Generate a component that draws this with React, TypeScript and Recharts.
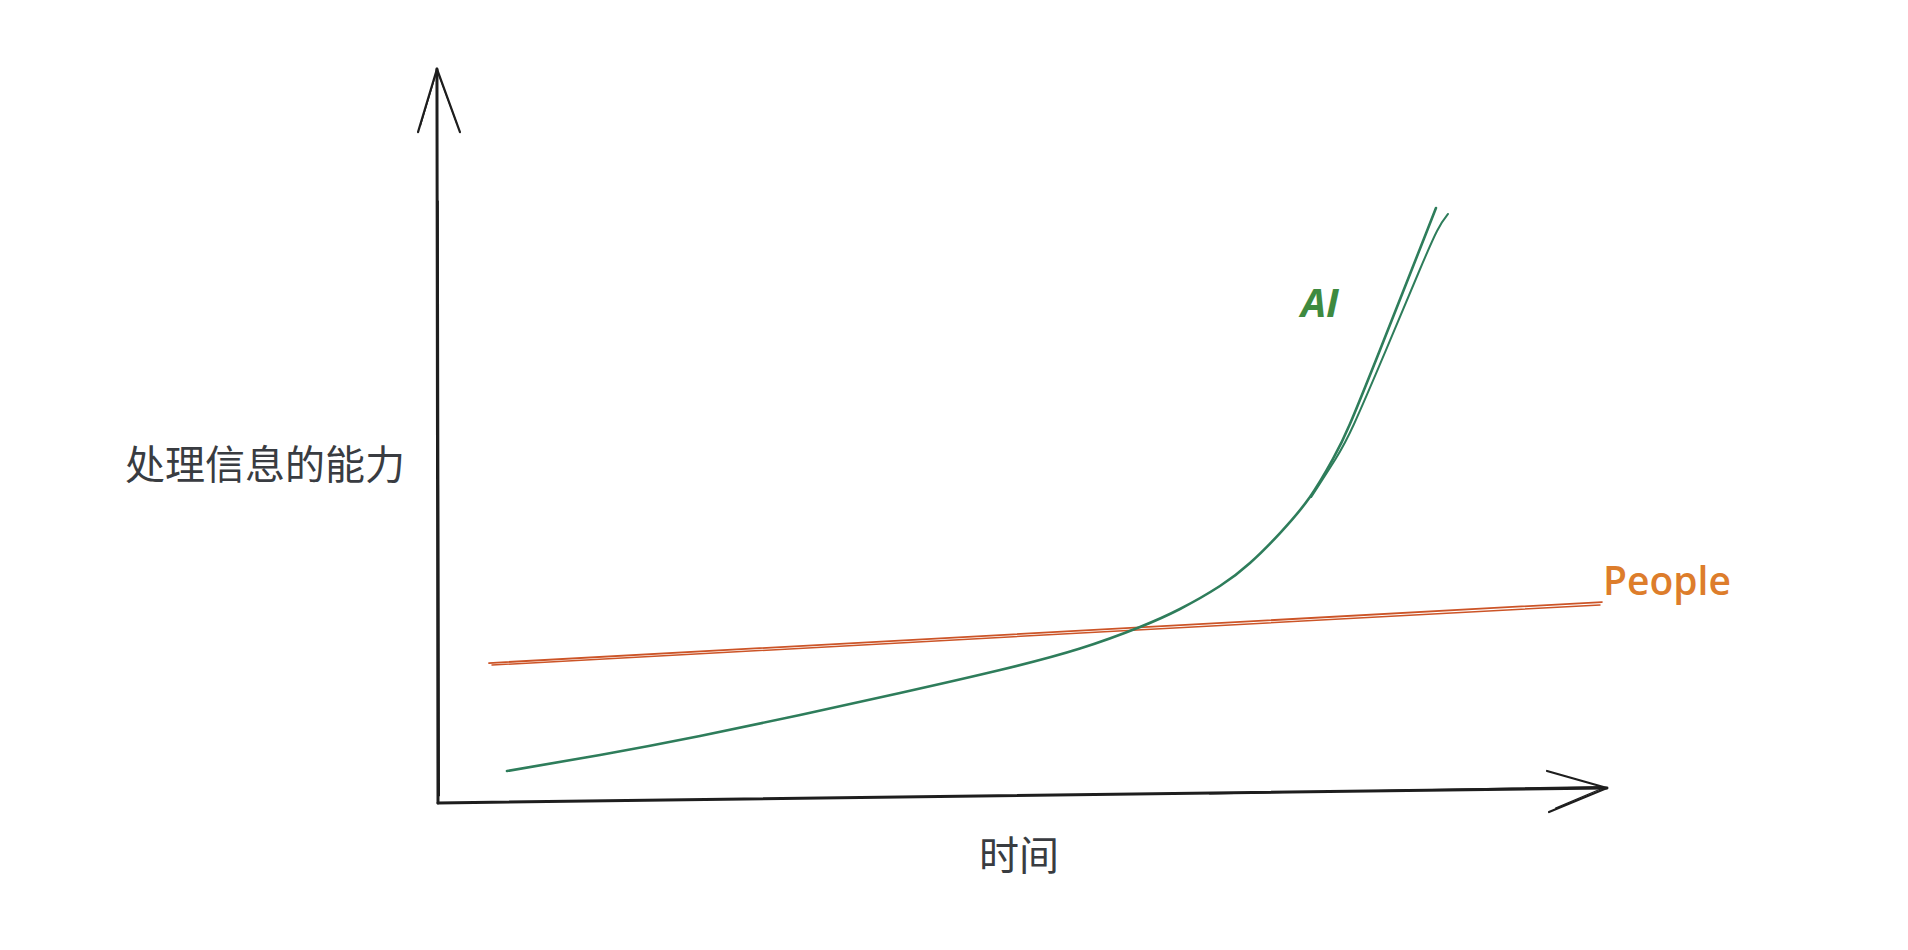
import React from "react";
import { ComposedChart, Line, XAxis, YAxis } from "recharts";

// Sketch data (arbitrary units: 0..100 on both axes; origin at the axes' corner)
const aiCurve = [
  { x: 5.9, y: 4.36 },
  { x: 13.86, y: 6.54 },
  { x: 22.41, y: 9.13 },
  { x: 30.97, y: 11.99 },
  { x: 39.52, y: 14.99 },
  { x: 48.08, y: 18.12 },
  { x: 54.92, y: 21.05 },
  { x: 60.05, y: 23.98 },
  { x: 63.47, y: 26.43 },
  { x: 66.89, y: 29.56 },
  { x: 69.46, y: 32.7 },
  { x: 72.03, y: 36.78 },
  { x: 74.59, y: 41.69 },
  { x: 76.56, y: 46.87 },
  { x: 78.01, y: 51.63 },
  { x: 80.58, y: 61.72 },
  { x: 83.15, y: 72.07 },
  { x: 84.6, y: 77.93 },
  { x: 85.37, y: 81.06 },
];
const aiCurveStroke2 = [
  { x: 74.7, y: 41.69 },
  { x: 76.78, y: 46.87 },
  { x: 78.36, y: 51.63 },
  { x: 81.1, y: 61.72 },
  { x: 83.83, y: 72.07 },
  { x: 85.46, y: 77.93 },
  { x: 86.4, y: 80.25 },
];
const peopleLine = [
  { x: 4.36, y: 19.07 },
  { x: 99.57, y: 27.38 },
];
const peopleLineStroke2 = [
  { x: 4.62, y: 18.8 },
  { x: 99.4, y: 26.98 },
];

// Axes (hand-drawn)
const yAxisLine = [
  { x: 0, y: 0 },
  { x: -0.09, y: 100 },
];
const yAxisLine2 = [
  { x: 0.12, y: 1 },
  { x: 0.02, y: 82 },
];
const xAxisLine = [
  { x: 0, y: 0 },
  { x: 100, y: 2.04 },
];
const xAxisLine2 = [
  { x: 66, y: 1.25 },
  { x: 99.6, y: 2.25 },
];
const yArrowLeft = [
  { x: -1.71, y: 91.4 },
  { x: -0.09, y: 100 },
];
const yArrowLeft2 = [
  { x: -1.5, y: 92.3 },
  { x: -0.2, y: 99.2 },
];
const yArrowRight = [
  { x: -0.09, y: 100 },
  { x: 1.88, y: 91.4 },
];
const yArrowRight2 = [
  { x: 0.05, y: 99.3 },
  { x: 1.6, y: 92.6 },
];
const xArrowUp = [
  { x: 94.87, y: 4.36 },
  { x: 100, y: 2.04 },
];
const xArrowDown = [
  { x: 95.04, y: -1.23 },
  { x: 100, y: 2.04 },
];
const xArrowDown2 = [
  { x: 95.6, y: -0.7 },
  { x: 99.6, y: 2.0 },
];

const yAxisTitle = "处理信息的能力";
const xAxisTitle = "时间";
const aiLabel = "AI";
const peopleLabel = "People";

const W = 1892;
const H = 934;
const AXIS = "#1e1e1e";
const GREEN = "#2e7d5b";
const RED = "#cc5427";

export default function App() {
  const common = {
    dataKey: "y",
    dot: false,
    activeDot: false,
    isAnimationActive: false,
    strokeLinecap: "round" as const,
  };
  return (
    <div style={{ position: "relative", width: W, height: H, background: "#fff" }}>
      <ComposedChart
        width={W}
        height={H}
        margin={{ left: 371.55, right: 234.55, top: 24.3, bottom: 102.3 }}
      >
        <XAxis dataKey="x" type="number" domain={[-5, 105]} allowDataOverflow hide />
        <YAxis type="number" domain={[-5, 105]} allowDataOverflow hide />

        <Line data={yAxisLine} type="linear" stroke={AXIS} strokeWidth={3} {...common} />
        <Line data={yAxisLine2} type="linear" stroke={AXIS} strokeWidth={1.2} {...common} />
        <Line data={xAxisLine} type="linear" stroke={AXIS} strokeWidth={3} {...common} />
        <Line data={xAxisLine2} type="linear" stroke={AXIS} strokeWidth={1.2} {...common} />
        <Line data={yArrowLeft} type="linear" stroke={AXIS} strokeWidth={2.2} {...common} />
        <Line data={yArrowLeft2} type="linear" stroke={AXIS} strokeWidth={1.2} {...common} />
        <Line data={yArrowRight} type="linear" stroke={AXIS} strokeWidth={2.2} {...common} />
        <Line data={yArrowRight2} type="linear" stroke={AXIS} strokeWidth={1.2} {...common} />
        <Line data={xArrowUp} type="linear" stroke={AXIS} strokeWidth={2.2} {...common} />
        <Line data={xArrowDown} type="linear" stroke={AXIS} strokeWidth={2.2} {...common} />
        <Line data={xArrowDown2} type="linear" stroke={AXIS} strokeWidth={1.2} {...common} />

        <Line data={peopleLine} type="linear" stroke={RED} strokeWidth={1.8} {...common} />
        <Line data={peopleLineStroke2} type="linear" stroke={RED} strokeWidth={1.5} {...common} />

        <Line data={aiCurve} type="natural" stroke={GREEN} strokeWidth={2.6} {...common} />
        <Line data={aiCurveStroke2} type="natural" stroke={GREEN} strokeWidth={2} {...common} />
      </ComposedChart>
      <svg
        width={W}
        height={H}
        style={{ position: "absolute", left: 0, top: 0, pointerEvents: "none" }}
      >
        <text
          x={117}
          y={453.5}
          dominantBaseline="central"
          fontFamily="'Noto Sans CJK SC', sans-serif"
          fontSize={40}
          fill="#393c41"
        >
          {yAxisTitle}
        </text>
        <text
          x={1011}
          y={845}
          dominantBaseline="central"
          textAnchor="middle"
          fontFamily="'Noto Sans CJK SC', sans-serif"
          fontSize={40}
          fill="#393c41"
        >
          {xAxisTitle}
        </text>
        <text
          x={1293}
          y={309}
          fontFamily="'Open Sans', sans-serif"
          fontStyle="italic"
          fontWeight={700}
          fontSize={40}
          fill="#3e8a3f"
        >
          {aiLabel}
        </text>
        <text
          x={1595}
          y={587}
          fontFamily="'Open Sans', sans-serif"
          fontWeight={600}
          fontSize={39}
          fill="#dd7d2b"
        >
          {peopleLabel}
        </text>
      </svg>
    </div>
  );
}
